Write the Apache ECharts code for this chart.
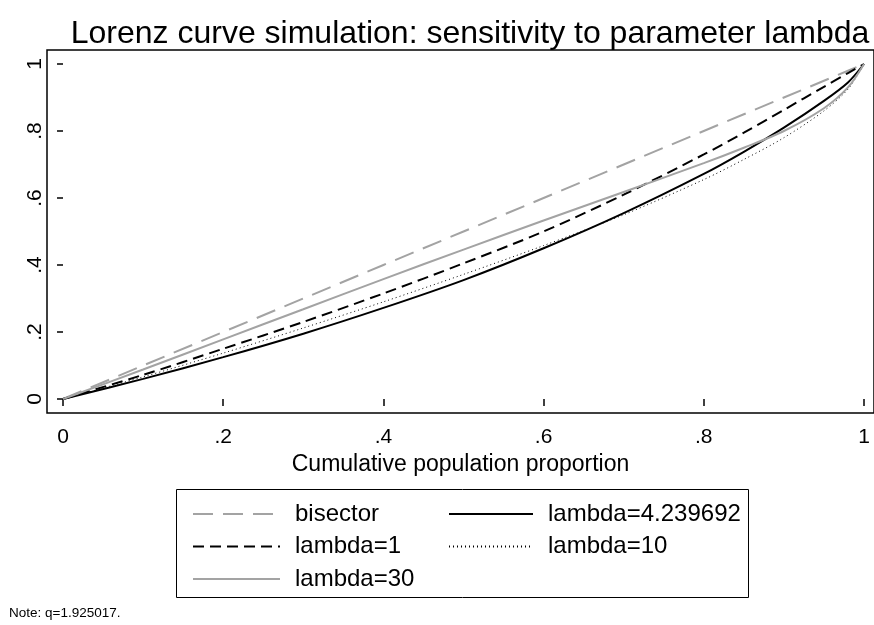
<!DOCTYPE html>
<html>
<head>
<meta charset="utf-8">
<script src="https://cdn.jsdelivr.net/npm/echarts@6/dist/echarts.min.js"></script>
<style>
  html, body { margin: 0; padding: 0; background: #fff; }
  #chart { width: 874px; height: 625px; }
</style>
</head>
<body>
<div id="chart"></div>
<script>
// population share (x) and Lorenz curve values
var popShare = [0, 0.1, 0.2, 0.3, 0.4, 0.5, 0.6, 0.7, 0.8, 0.85, 0.9, 0.95, 0.98, 1];
var bisector = [0, 0.1, 0.2, 0.3, 0.4, 0.5, 0.6, 0.7, 0.8, 0.85, 0.9, 0.95, 0.98, 1];
var lambda1  = [0, 0.072, 0.15, 0.23, 0.315, 0.405, 0.50, 0.61, 0.73, 0.795, 0.863, 0.932, 0.973, 1];
var lambdaHat = [0, 0.06, 0.125, 0.195, 0.272, 0.355, 0.45, 0.555, 0.672, 0.738, 0.81, 0.89, 0.945, 1];
var lambda10 = [0, 0.066, 0.137, 0.212, 0.29, 0.372, 0.458, 0.55, 0.655, 0.715, 0.78, 0.86, 0.925, 1];
var lambda30 = [0, 0.088, 0.178, 0.268, 0.358, 0.446, 0.533, 0.618, 0.704, 0.75, 0.80, 0.868, 0.93, 1];
var tickVals = [0, 0.2, 0.4, 0.6, 0.8, 1];

function pairs(ys) {
  return popShare.map(function (x, i) { return [x, ys[i]]; });
}
// stata style labels: .2 instead of 0.2
function stataLab(v) {
  if (v === 0 || v === 1) return String(v);
  return String(Math.round(v * 10) / 10).replace(/^0/, '');
}

var chartDom = document.getElementById('chart');
var myChart = echarts.init(chartDom);
var font = 'Liberation Sans, Arial, sans-serif';
var gray = '#a3a3a3';

var option = {
  animation: false,
  title: {
    text: 'Lorenz curve simulation: sensitivity to parameter lambda',
    left: 465,
    top: 13,
    textAlign: 'center',
    textStyle: { fontFamily: font, fontSize: 32, fontWeight: 'normal', color: '#000' }
  },
  grid: {
    left: 47, top: 50, right: -2, bottom: 212,
    show: true, borderColor: '#000', borderWidth: 1.5, containLabel: false
  },
  xAxis: {
    type: 'value',
    min: -0.02, max: 1.0125,
    name: 'Cumulative population proportion',
    nameLocation: 'middle',
    nameGap: 40,
    nameTextStyle: { fontFamily: font, fontSize: 23, color: '#000' },
    axisLine: { show: false },
    splitLine: { show: false },
    axisTick: { show: true, length: 7, lineStyle: { color: '#000', width: 1.5 }, customValues: tickVals },
    axisLabel: { customValues: tickVals, formatter: stataLab, margin: 14,
      fontFamily: font, fontSize: 21, color: '#000' }
  },
  yAxis: {
    type: 'value',
    min: -0.0418, max: 1.0418,
    axisLine: { show: false },
    splitLine: { show: false },
    axisTick: { show: true, length: 6, lineStyle: { color: '#000', width: 1.5 }, customValues: tickVals },
    axisLabel: { customValues: tickVals, formatter: stataLab, rotate: 90, margin: 1,
      fontFamily: font, fontSize: 21, color: '#000' }
  },
  legend: [
    {
      data: ['bisector', 'lambda=1', 'lambda=30'],
      orient: 'vertical', left: 187, top: 497,
      itemWidth: 87, itemHeight: 14, itemGap: 8.5,
      itemStyle: { opacity: 0 },
      textStyle: { fontFamily: font, fontSize: 24, color: '#000', padding: [0, 0, 0, 10] }
    },
    {
      data: ['lambda=4.239692', 'lambda=10'],
      orient: 'vertical', left: 443, top: 497,
      itemWidth: 84, itemHeight: 14, itemGap: 8.5,
      itemStyle: { opacity: 0 },
      textStyle: { fontFamily: font, fontSize: 24, color: '#000', padding: [0, 0, 0, 10] }
    }
  ],
  graphic: [
    { type: 'rect', shape: { x: 176.5, y: 489.5, width: 572, height: 108 },
      style: { fill: 'none', stroke: '#000', lineWidth: 1 } },
    { type: 'text', left: 9, top: 606,
      style: { text: 'Note: q=1.925017.', fontFamily: font, fontSize: 13.5, fill: '#000' } }
  ],
  series: [
    { name: 'bisector', type: 'line', data: pairs(bisector), showSymbol: false, symbol: 'none',
      lineStyle: { color: gray, width: 2, type: [20, 10] }, itemStyle: { color: gray } },
    { name: 'lambda=1', type: 'line', data: pairs(lambda1), showSymbol: false, symbol: 'none', smooth: 0.3,
      lineStyle: { color: '#000', width: 2, type: [11, 6] }, itemStyle: { color: '#000' } },
    { name: 'lambda=4.239692', type: 'line', data: pairs(lambdaHat), showSymbol: false, symbol: 'none', smooth: 0.3,
      lineStyle: { color: '#000', width: 2 }, itemStyle: { color: '#000' } },
    { name: 'lambda=10', type: 'line', data: pairs(lambda10), showSymbol: false, symbol: 'none', smooth: 0.3,
      lineStyle: { color: '#000', width: 1, type: [1, 3] }, itemStyle: { color: '#000' } },
    { name: 'lambda=30', type: 'line', data: pairs(lambda30), showSymbol: false, symbol: 'none', smooth: 0.3,
      lineStyle: { color: gray, width: 2 }, itemStyle: { color: gray } }
  ]
};

option && myChart.setOption(option);
</script>
</body>
</html>
